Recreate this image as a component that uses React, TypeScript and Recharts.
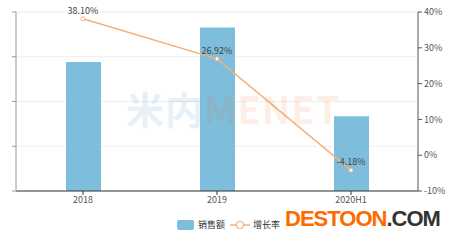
import { ComposedChart, Bar, Line, XAxis, YAxis, CartesianGrid, Legend, LabelList } from "recharts";

const years = ["2018", "2019", "2020H1"];
const sales = [288, 365.6, 167];
const growth = [38.1, 26.92, -4.18];
const rateTicks = [-10, 0, 10, 20, 30, 40];
const salesTicks = [0, 100, 200, 300, 400];

const data = years.map((y, i) => ({ year: y, 销售额: sales[i], 增长率: growth[i] }));

const FONT = '"Noto Sans CJK SC", "Noto Sans", sans-serif';
const BAR = "#7ebedc";
const LINE = "#f3b07c";

// bar series first in the legend, then the line
const legendOrder = (item: any) => (item.dataKey === "销售额" ? 0 : 1);

function LegendContent({ payload }: any) {
  const items = [...(payload || [])].sort((a, b) => legendOrder(a) - legendOrder(b));
  return (
    <div style={{ display: "flex", justifyContent: "center", alignItems: "center", paddingLeft: 8, fontSize: 9, color: "#333", fontFamily: FONT }}>
      {items.map((item: any) => (
        <div key={item.value} style={{ display: "flex", alignItems: "center", marginRight: 5 }}>
          {item.type === "line" ? (
            <svg width={20} height={10} style={{ marginRight: 3 }}>
              <line x1={0} y1={5} x2={20} y2={5} stroke={LINE} strokeWidth={1.5} />
              <circle cx={10} cy={5} r={3.5} fill="#fff" stroke={LINE} strokeWidth={1.2} />
            </svg>
          ) : (
            <svg width={17} height={10} style={{ marginRight: 4 }}>
              <rect x={0} y={0} width={17} height={10} rx={2} fill={BAR} />
            </svg>
          )}
          <span>{item.value}</span>
        </div>
      ))}
    </div>
  );
}

export default function App() {
  return (
    <div style={{ position: "absolute", left: 0, top: 0, width: 454, height: 240, background: "#fff", fontFamily: FONT }}>
      <ComposedChart width={454} height={240} data={data} margin={{ top: 12, right: 0, bottom: 0, left: 0 }}>
        <CartesianGrid yAxisId="left" vertical={false} stroke="#eeeeee" />
        <XAxis
          dataKey="year"
          height={20}
          stroke="#333"
          tickSize={4}
          tick={{ fontSize: 9, fill: "#555", fontFamily: FONT }}
        />
        <YAxis
          yAxisId="left"
          width={16}
          domain={[0, 400]}
          ticks={salesTicks}
          stroke="#999"
          tickSize={4}
          tickFormatter={() => ""}
        />
        <YAxis
          yAxisId="right"
          orientation="right"
          width={36}
          domain={[-10, 40]}
          ticks={rateTicks}
          stroke="#555"
          tickSize={4}
          tickFormatter={(v) => `${v}%`}
          tick={{ fontSize: 9, fill: "#555", fontFamily: FONT }}
        />
        <Legend
          verticalAlign="bottom"
          height={29}
          content={<LegendContent />}
          wrapperStyle={{ top: 218 }}
        />
        <Bar yAxisId="left" dataKey="销售额" fill={BAR} barSize={35} isAnimationActive={false} />
        <Line
          yAxisId="right"
          dataKey="增长率"
          stroke={LINE}
          strokeWidth={1.5}
          dot={{ r: 2, fill: "#fff", stroke: LINE, strokeWidth: 1 }}
          isAnimationActive={false}
        >
          <LabelList
            dataKey="增长率"
            position="top"
            offset={5}
            formatter={(v: number) => `${v.toFixed(2)}%`}
            style={{ fontSize: 9, fill: "#444", fontFamily: FONT }}
          />
        </Line>
      </ComposedChart>
      <div style={{ position: "absolute", left: 126, top: 80, fontSize: 38, fontWeight: 700, letterSpacing: 1, opacity: 0.1, pointerEvents: "none", whiteSpace: "nowrap" }}>
        <span style={{ color: "#2a7ab8" }}>米内</span>
        <span style={{ color: "#f07020" }}>MENET</span>
      </div>
      <div style={{ position: "absolute", left: 285, top: 206, fontSize: 22, lineHeight: "25px", fontWeight: 700, letterSpacing: -1, fontFamily: '"Liberation Sans", sans-serif', pointerEvents: "none", whiteSpace: "nowrap" }}>
        <span style={{ color: "#ff6a00" }}>DESTOON</span>
        <span style={{ color: "#333" }}>.COM</span>
      </div>
    </div>
  );
}
